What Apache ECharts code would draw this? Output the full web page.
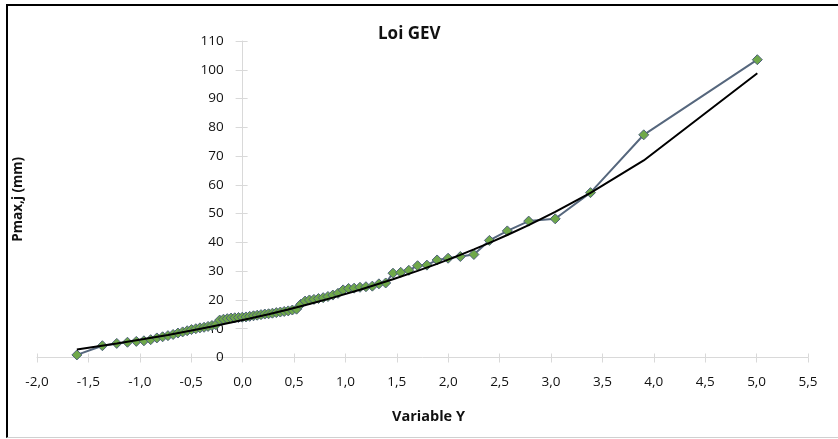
<!DOCTYPE html>
<html>
<head>
<meta charset="utf-8">
<script src="https://cdn.jsdelivr.net/npm/echarts@6/dist/echarts.min.js"></script>
<style>
html,body{margin:0;padding:0;background:#fff;}
#frame{position:absolute;left:6px;top:4px;width:840px;height:431px;border-top:2px solid #000;border-left:2px solid #000;border-bottom:1px solid #d0d0d0;}
#chart{position:absolute;left:0;top:0;width:838px;height:439px;}
</style>
</head>
<body>
<div id="frame"></div>
<div id="chart"></div>
<script>
const varY = [-1.612,-1.364,-1.224,-1.120,-1.034,-0.960,-0.894,-0.834,-0.778,-0.726,
  -0.676,-0.629,-0.583,-0.539,-0.497,-0.455,-0.415,-0.375,-0.336,-0.298,
  -0.260,-0.223,-0.186,-0.149,-0.112,-0.076,-0.040,-0.003,0.033,0.069,
  0.106,0.142,0.179,0.216,0.253,0.290,0.328,0.367,0.405,0.444,
  0.484,0.525,0.566,0.608,0.650,0.694,0.738,0.784,0.830,0.878,
  0.928,0.978,1.031,1.085,1.142,1.200,1.262,1.326,1.392,1.463,
  1.538,1.617,1.702,1.793,1.892,1.999,2.118,2.250,2.401,2.575,
  2.783,3.041,3.384,3.902,5.007];
// Observed maximum daily rainfall Pmax,j (mm)
const pObs = [0.9,4.1,4.9,5.3,5.6,5.8,6.2,6.8,7.2,7.6,
  8.0,8.5,8.9,9.3,9.7,10.0,10.3,10.5,10.8,11.1,
  11.4,13.0,13.3,13.5,13.7,13.8,13.9,14.0,14.1,14.3,
  14.5,14.7,14.9,15.1,15.2,15.4,15.6,15.8,16.0,16.2,
  16.5,16.8,18.5,19.6,20.0,20.2,20.5,20.8,21.2,21.7,
  22.3,23.5,24.0,24.1,24.4,24.6,24.8,25.6,25.9,29.3,
  29.6,30.3,31.9,32.1,33.9,34.5,35.1,35.8,40.7,44.0,
  47.4,48.2,57.3,77.4,103.5];
// GEV fitted curve
const fitY = [-1.612,-1.224,-0.960,-0.726,-0.497,-0.298,-0.112,0.069,0.253,0.444,
  0.650,0.878,1.142,1.463,1.702,1.892,1.999,2.118,2.250,2.401,
  2.575,2.783,3.041,3.384,3.902,5.007];
const fitP = [2.8,4.9,6.4,7.85,9.37,10.76,12.13,13.55,15.06,16.71,
  18.59,20.81,23.54,27.18,30.10,32.55,34.01,35.67,37.58,39.84,
  42.58,46.03,50.61,57.23,68.49,98.77];

const xMin = -2, xMax = 5.5, xStep = 0.5;
const yMin = 0, yMax = 110, yStep = 10;

const obsData = varY.map((v,i)=>[v,pObs[i]]);
const fitData = fitY.map((v,i)=>[v,fitP[i]]);

const FONT = 'Open Sans';
const axisGray = '#d9d9d9';
const fmtX = v => v.toFixed(1).replace('.', ',');

// plot area
const W = 838, H = 439;
const gLeft = 37, gRight = 30, gTop = 41, gBottom = 81.5;
const plotW = W - gLeft - gRight;
// the vertical axis crosses the horizontal one at Y = 0
const yAxisLeft = gLeft + plotW * (0 - xMin) / (xMax - xMin);

const chart = echarts.init(document.getElementById('chart'), null, {renderer:'canvas'});
chart.setOption({
  animation:false,
  backgroundColor:'transparent',
  title:{text:'Loi GEV', left:373, top:21,
    textStyle:{fontFamily:FONT, fontWeight:'bold', fontSize:17, color:'#111'}},
  grid:[
    {left:gLeft, right:gRight, top:gTop, bottom:gBottom, containLabel:false, outerBoundsMode:'none'},
    {left:yAxisLeft, width:1, top:gTop, bottom:gBottom, containLabel:false, outerBoundsMode:'none'}
  ],
  xAxis:[{
    type:'value', gridIndex:0, min:xMin, max:xMax, interval:xStep,
    name:'Variable Y', nameLocation:'middle', nameGap:52,
    nameTextStyle:{fontFamily:FONT, fontWeight:'bold', fontSize:14.5, color:'#111', padding:[0,0,0,12]},
    axisLine:{show:true, onZero:false, lineStyle:{color:axisGray, width:1}},
    axisTick:{show:true, inside:false, length:5, lineStyle:{color:axisGray}},
    axisLabel:{formatter:fmtX, margin:18, fontFamily:FONT, fontSize:13.5, color:'#111'},
    splitLine:{show:false}
  },{
    type:'value', gridIndex:0, min:xMin, max:xMax, interval:xStep, position:'bottom',
    axisLine:{show:false, onZero:false},
    axisTick:{show:true, inside:true, length:4, lineStyle:{color:axisGray}},
    axisLabel:{show:false}, splitLine:{show:false}
  },{
    type:'value', gridIndex:1, min:0, max:1, show:false
  }],
  yAxis:[{
    type:'value', gridIndex:0, min:yMin, max:yMax, interval:yStep, show:false
  },{
    type:'value', gridIndex:1, min:yMin, max:yMax, interval:yStep, position:'left',
    name:'Pmax,j (mm)', nameLocation:'middle', nameGap:yAxisLeft - 25,
    nameTextStyle:{fontFamily:FONT, fontWeight:'bold', fontSize:13.5, color:'#111'},
    axisLine:{show:true, onZero:false, lineStyle:{color:axisGray, width:1}},
    axisTick:{show:true, inside:false, length:7, lineStyle:{color:axisGray}},
    axisLabel:{margin:19, fontFamily:FONT, fontSize:13.5, color:'#111'},
    splitLine:{show:false}
  },{
    type:'value', gridIndex:1, min:yMin, max:yMax, interval:yStep, position:'left',
    axisLine:{show:false, onZero:false},
    axisTick:{show:true, inside:true, length:5, lineStyle:{color:axisGray}},
    axisLabel:{show:false}, splitLine:{show:false}
  }],
  series:[{
    name:'Observed', type:'line', data:obsData, xAxisIndex:0, yAxisIndex:0,
    symbol:'diamond', symbolSize:10, showAllSymbol:true,
    lineStyle:{color:'#56677d', width:2},
    itemStyle:{color:'#6fa84a', borderColor:'#4d607a', borderWidth:1},
    z:2
  },{
    name:'GEV', type:'line', data:fitData, xAxisIndex:0, yAxisIndex:0,
    symbol:'none', lineStyle:{color:'#000', width:2}, z:3
  }]
});
</script>
</body>
</html>
